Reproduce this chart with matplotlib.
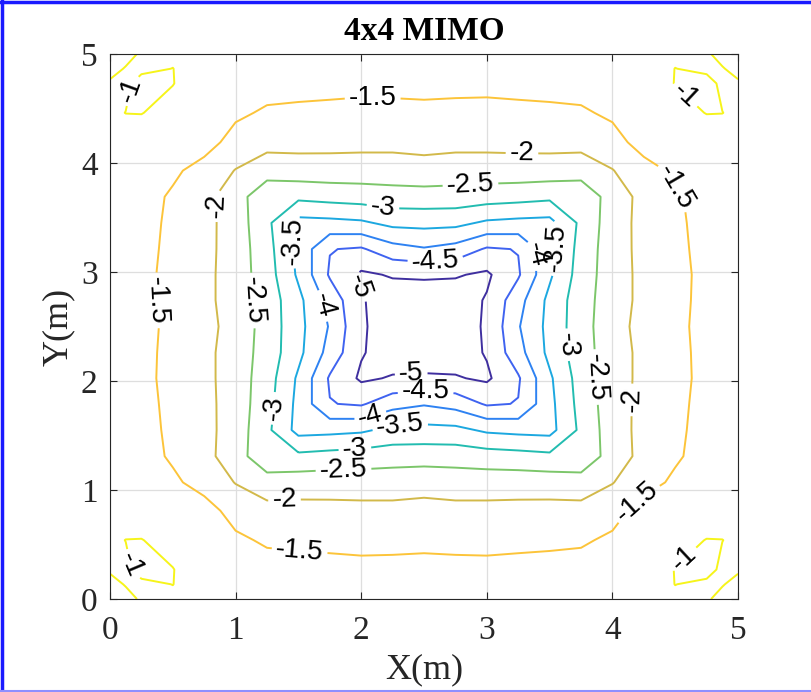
import numpy as np
import matplotlib.pyplot as plt
from matplotlib.lines import Line2D

plt.rcParams['font.family'] = ['Liberation Sans', 'DejaVu Sans']

# sample positions (m); extra samples near the walls for the corner bumps
xs = [0, 0.125, 0.25, 0.5, 0.75, 1, 1.25, 1.5, 1.75, 2, 2.25, 2.5,
      2.75, 3, 3.25, 3.5, 3.75, 4, 4.25, 4.5, 4.75, 4.875, 5]
ys = [0, 0.135, 0.27, 0.54, 0.81, 1.07, 1.31, 1.55, 1.79, 2.025, 2.26, 2.5,
      2.74, 2.975, 3.21, 3.45, 3.69, 3.93, 4.19, 4.46, 4.73, 4.865, 5]

# values, row by row from y=0 to y=5
Z = [
    [-0.85, -0.95, -1.02, -1.03, -1.07, -1.13, -1.20, -1.26, -1.28, -1.28, -1.29, -1.28, -1.29, -1.28, -1.28, -1.26, -1.20, -1.13, -1.07, -1.03, -1.02, -0.95, -0.85],
    [-0.95, -1.01, -1.03, -0.998, -1.08, -1.175, -1.265, -1.32, -1.34, -1.345, -1.35, -1.34, -1.35, -1.345, -1.34, -1.32, -1.265, -1.175, -1.08, -0.998, -1.03, -1.01, -0.95],
    [-1.02, -1.03, -0.95, -0.995, -1.10, -1.22, -1.33, -1.38, -1.40, -1.41, -1.41, -1.40, -1.41, -1.41, -1.40, -1.38, -1.33, -1.22, -1.10, -0.995, -0.95, -1.03, -1.02],
    [-1.03, -0.998, -0.995, -1.06, -1.20, -1.42, -1.56, -1.57, -1.58, -1.60, -1.59, -1.58, -1.59, -1.60, -1.58, -1.57, -1.56, -1.42, -1.20, -1.06, -0.995, -0.998, -1.03],
    [-1.07, -1.08, -1.10, -1.20, -1.32, -1.67, -1.83, -1.85, -1.86, -1.87, -1.87, -1.84, -1.87, -1.87, -1.86, -1.85, -1.83, -1.67, -1.32, -1.20, -1.10, -1.08, -1.07],
    [-1.13, -1.175, -1.22, -1.42, -1.67, -2.02, -2.30, -2.23, -2.22, -2.23, -2.23, -2.19, -2.23, -2.23, -2.22, -2.23, -2.30, -2.02, -1.67, -1.42, -1.22, -1.175, -1.13],
    [-1.20, -1.265, -1.33, -1.56, -1.83, -2.30, -2.83, -2.89, -2.82, -2.77, -2.71, -2.70, -2.71, -2.77, -2.82, -2.89, -2.83, -2.30, -1.83, -1.56, -1.33, -1.265, -1.20],
    [-1.26, -1.32, -1.38, -1.57, -1.85, -2.23, -2.89, -3.67, -3.64, -3.58, -3.37, -3.35, -3.37, -3.58, -3.64, -3.67, -2.89, -2.23, -1.85, -1.57, -1.38, -1.32, -1.26],
    [-1.28, -1.34, -1.40, -1.58, -1.86, -2.22, -2.82, -3.64, -4.48, -4.56, -4.18, -4.04, -4.18, -4.56, -4.48, -3.64, -2.82, -2.22, -1.86, -1.58, -1.40, -1.34, -1.28],
    [-1.28, -1.345, -1.41, -1.60, -1.87, -2.23, -2.77, -3.58, -4.56, -5.08, -4.96, -4.95, -4.96, -5.08, -4.56, -3.58, -2.77, -2.23, -1.87, -1.60, -1.41, -1.345, -1.28],
    [-1.29, -1.35, -1.41, -1.59, -1.87, -2.23, -2.71, -3.37, -4.18, -4.96, -5.24, -5.20, -5.24, -4.96, -4.18, -3.37, -2.71, -2.23, -1.87, -1.59, -1.41, -1.35, -1.29],
    [-1.28, -1.34, -1.40, -1.58, -1.84, -2.19, -2.70, -3.35, -4.04, -4.95, -5.20, -5.25, -5.20, -4.95, -4.04, -3.35, -2.70, -2.19, -1.84, -1.58, -1.40, -1.34, -1.28],
    [-1.29, -1.35, -1.41, -1.59, -1.87, -2.23, -2.71, -3.37, -4.18, -4.96, -5.24, -5.20, -5.24, -4.96, -4.18, -3.37, -2.71, -2.23, -1.87, -1.59, -1.41, -1.35, -1.29],
    [-1.28, -1.345, -1.41, -1.60, -1.87, -2.23, -2.77, -3.58, -4.56, -5.08, -4.96, -4.95, -4.96, -5.08, -4.56, -3.58, -2.77, -2.23, -1.87, -1.60, -1.41, -1.345, -1.28],
    [-1.28, -1.34, -1.40, -1.58, -1.86, -2.22, -2.82, -3.64, -4.48, -4.56, -4.18, -4.04, -4.18, -4.56, -4.48, -3.64, -2.82, -2.22, -1.86, -1.58, -1.40, -1.34, -1.28],
    [-1.26, -1.32, -1.38, -1.57, -1.85, -2.23, -2.89, -3.67, -3.64, -3.58, -3.37, -3.35, -3.37, -3.58, -3.64, -3.67, -2.89, -2.23, -1.85, -1.57, -1.38, -1.32, -1.26],
    [-1.20, -1.265, -1.33, -1.56, -1.83, -2.30, -2.83, -2.89, -2.82, -2.77, -2.71, -2.70, -2.71, -2.77, -2.82, -2.89, -2.83, -2.30, -1.83, -1.56, -1.33, -1.265, -1.20],
    [-1.13, -1.175, -1.22, -1.42, -1.67, -2.02, -2.30, -2.23, -2.22, -2.23, -2.23, -2.19, -2.23, -2.23, -2.22, -2.23, -2.30, -2.02, -1.67, -1.42, -1.22, -1.175, -1.13],
    [-1.07, -1.08, -1.10, -1.20, -1.32, -1.67, -1.83, -1.85, -1.86, -1.87, -1.87, -1.84, -1.87, -1.87, -1.86, -1.85, -1.83, -1.67, -1.32, -1.20, -1.10, -1.08, -1.07],
    [-1.03, -0.998, -0.995, -1.06, -1.20, -1.42, -1.56, -1.57, -1.58, -1.60, -1.59, -1.58, -1.59, -1.60, -1.58, -1.57, -1.56, -1.42, -1.20, -1.06, -0.995, -0.998, -1.03],
    [-1.02, -1.03, -0.95, -0.995, -1.10, -1.22, -1.33, -1.38, -1.40, -1.41, -1.41, -1.40, -1.41, -1.41, -1.40, -1.38, -1.33, -1.22, -1.10, -0.995, -0.95, -1.03, -1.02],
    [-0.95, -1.01, -1.03, -0.998, -1.08, -1.175, -1.265, -1.32, -1.34, -1.345, -1.35, -1.34, -1.35, -1.345, -1.34, -1.32, -1.265, -1.175, -1.08, -0.998, -1.03, -1.01, -0.95],
    [-0.85, -0.95, -1.02, -1.03, -1.07, -1.13, -1.20, -1.26, -1.28, -1.28, -1.29, -1.28, -1.29, -1.28, -1.28, -1.26, -1.20, -1.13, -1.07, -1.03, -1.02, -0.95, -0.85],
]

levels = [-5, -4.5, -4, -3.5, -3, -2.5, -2, -1.5, -1]

# where the contour labels sit
label_pos = [
    (0.16, 4.67), (4.62, 4.67), (0.16, 0.31), (4.62, 0.31),
    (2.09, 4.56), (0.38, 2.74), (4.47, 3.75), (1.51, 0.45), (4.22, 0.86),
    (3.28, 4.12), (0.89, 3.61), (4.06, 1.83), (1.39, 0.88),
    (2.87, 3.80), (1.17, 2.74), (3.80, 2.03), (1.86, 1.14),
    (2.17, 3.57), (1.29, 1.75), (3.58, 2.33), (1.95, 1.37),
    (1.49, 3.29), (3.53, 3.22), (2.31, 1.57),
    (1.74, 2.70), (3.41, 3.16), (2.07, 1.69),
    (2.59, 3.11), (2.51, 1.87),
    (2.03, 2.88), (2.40, 2.01),
]

# parula-like colours for each level
level_colors = ['#3f2f9f', '#3f63f0', '#2e82f2', '#1ca8e0', '#22bcb0',
                '#7cc66a', '#d2b94a', '#fcc43a', '#f6f41a']

fig = plt.figure(figsize=(8.12, 6.92), dpi=100)
ax = fig.add_axes([0.1355, 0.1344, 0.7734, 0.7876])

cs = ax.contour(xs, ys, Z, levels=levels, colors=level_colors, linewidths=1.4)
ax.clabel(cs, fmt='%g', fontsize=20, colors='k', inline_spacing=4, manual=label_pos)

ax.set_xlim(0, 5)
ax.set_ylim(0, 5)
ax.set_xticks([0, 1, 2, 3, 4, 5])
ax.set_yticks([0, 1, 2, 3, 4, 5])
ax.grid(True, color='#dedede', linewidth=0.9)
ax.set_axisbelow(True)
ax.tick_params(direction='in', top=True, right=True, length=5, width=0.8,
               colors='#262626', labelsize=24)
ax.tick_params(axis='x', pad=12)
ax.tick_params(axis='y', pad=9)
for lbl in ax.get_xticklabels() + ax.get_yticklabels():
    lbl.set_fontfamily('Liberation Serif')
for s in ax.spines.values():
    s.set_color('#262626')
    s.set_linewidth(0.8)

ax.set_xlabel('X(m)', fontsize=26, family='Liberation Serif', color='#262626', labelpad=5)
ax.set_ylabel('Y(m)', fontsize=26, family='Liberation Serif', color='#262626', labelpad=4)
ax.set_title('4x4 MIMO', fontsize=24, family='Liberation Serif', fontweight='bold', pad=10)

# window frame seen around the screenshot
fig.add_artist(Line2D([0.002, 0.002], [0, 1], transform=fig.transFigure, color='#1a1aff', lw=2.5))
fig.add_artist(Line2D([0, 1], [0.997, 0.997], transform=fig.transFigure, color='#1a1aff', lw=2.5))
fig.add_artist(Line2D([0, 1], [0.002, 0.002], transform=fig.transFigure, color='#8f8fff', lw=1.5))

fig.savefig('out.png', dpi=100)
